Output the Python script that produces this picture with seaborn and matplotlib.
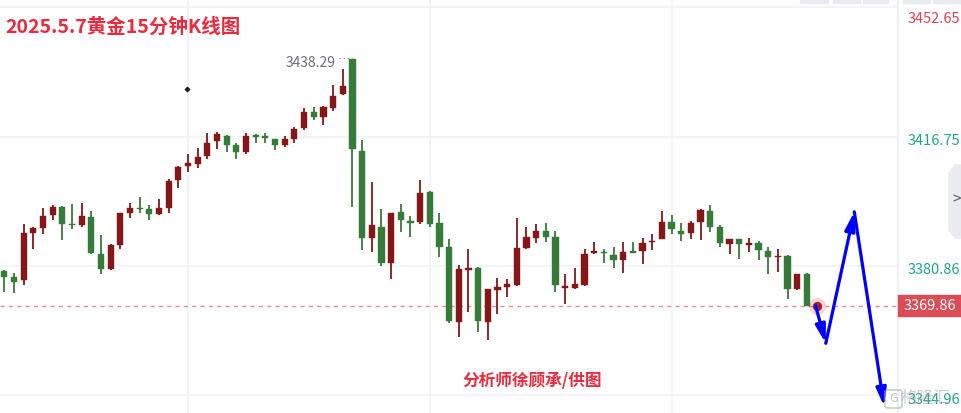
import numpy as np
import pandas as pd
import seaborn as sns
import matplotlib.pyplot as plt
from matplotlib.patches import Rectangle, Polygon, FancyBboxPatch
from matplotlib.transforms import ScaledTranslation

# 15 minute candles
opens = [3379.6, 3377.9, 3377.0, 3390.1, 3391.5, 3395.0, 3397.3, 3392.4, 3392.2, 3394.5,
         3384.2, 3380.0, 3386.6, 3395.7, 3396.9, 3396.6, 3395.4, 3397.0, 3404.7, 3408.5,
         3409.2, 3411.3, 3415.6, 3417.0, 3414.3, 3412.4, 3417.1, 3416.8, 3416.0, 3414.3,
         3416.1, 3419.1, 3423.7, 3422.3, 3424.8, 3428.6, 3438.2, 3412.9, 3388.7, 3391.7,
         3381.8, 3395.9, 3393.4, 3393.2, 3401.5, 3392.8, 3386.2, 3365.4, 3379.8, 3380.3,
         3365.4, 3374.2, 3375.1, 3375.7, 3385.9, 3388.7, 3390.7, 3389.0, 3374.8, 3374.8,
         3375.6, 3384.4, 3384.8, 3384.0, 3382.5, 3384.8, 3384.9, 3387.4, 3388.4, 3393.1,
         3390.7, 3389.9, 3393.0, 3396.2, 3391.8, 3387.0, 3388.3, 3386.7, 3387.3, 3385.1,
         3383.3, 3383.7, 3374.5, 3378.6]
closes = [3377.9, 3376.5, 3389.9, 3391.4, 3394.8, 3397.3, 3392.5, 3392.1, 3394.8, 3384.4,
          3380.1, 3386.6, 3395.6, 3397.0, 3396.6, 3395.3, 3397.0, 3404.5, 3408.4, 3409.5,
          3411.2, 3414.9, 3417.4, 3414.5, 3412.6, 3417.0, 3416.6, 3416.3, 3414.5, 3416.0,
          3418.8, 3423.7, 3422.3, 3425.1, 3428.1, 3430.9, 3413.3, 3388.7, 3392.1, 3381.8,
          3395.5, 3393.6, 3392.9, 3401.0, 3392.5, 3386.2, 3365.7, 3380.0, 3380.3, 3365.7,
          3374.4, 3375.1, 3375.8, 3385.9, 3389.0, 3390.7, 3389.0, 3375.6, 3375.1, 3375.8,
          3384.1, 3384.9, 3384.4, 3382.5, 3384.8, 3384.6, 3387.2, 3387.9, 3393.1, 3391.2,
          3389.8, 3392.7, 3396.4, 3391.6, 3387.2, 3388.3, 3387.0, 3387.1, 3385.3, 3383.3,
          3383.7, 3374.5, 3378.6, 3369.86]
highs = [3379.8, 3378.8, 3392.4, 3391.8, 3396.9, 3397.7, 3397.5, 3398.1, 3398.4, 3396.2,
         3389.4, 3386.9, 3395.6, 3398.4, 3400.1, 3397.7, 3399.5, 3404.9, 3408.6, 3411.9,
         3413.5, 3417.7, 3418.1, 3417.2, 3414.9, 3417.7, 3417.4, 3417.7, 3416.0, 3417.0,
         3419.5, 3424.6, 3425.1, 3425.3, 3431.1, 3435.5, 3438.29, 3415.8, 3404.3, 3396.7,
         3395.5, 3398.1, 3394.8, 3404.7, 3401.8, 3395.7, 3388.3, 3381.1, 3385.6, 3380.7,
         3374.4, 3377.5, 3377.2, 3394.1, 3391.8, 3392.5, 3392.8, 3390.7, 3378.6, 3380.2,
         3385.5, 3387.6, 3385.5, 3386.1, 3387.6, 3387.6, 3388.6, 3389.7, 3396.2, 3394.9,
         3392.7, 3393.4, 3396.7, 3397.7, 3392.1, 3388.3, 3388.3, 3388.6, 3387.8, 3386.2,
         3385.5, 3383.9, 3378.6, 3378.8]
lows = [3373.7, 3373.4, 3375.5, 3385.6, 3389.7, 3393.6, 3388.1, 3391.1, 3391.6, 3384.2,
        3378.6, 3379.8, 3385.6, 3394.3, 3395.7, 3393.6, 3395.1, 3395.7, 3402.6, 3407.0,
        3408.1, 3410.6, 3413.3, 3412.6, 3410.6, 3412.0, 3415.1, 3415.1, 3413.1, 3413.8,
        3415.1, 3418.6, 3421.4, 3420.0, 3424.0, 3428.3, 3397.3, 3385.3, 3384.8, 3380.9,
        3377.3, 3390.4, 3389.0, 3392.5, 3391.8, 3383.3, 3365.1, 3361.2, 3368.2, 3362.6,
        3360.3, 3367.5, 3372.3, 3375.4, 3385.6, 3387.3, 3387.4, 3373.7, 3370.3, 3374.5,
        3375.4, 3384.1, 3381.8, 3380.4, 3379.0, 3384.4, 3381.4, 3385.2, 3388.4, 3389.7,
        3387.7, 3388.4, 3388.1, 3390.2, 3386.2, 3384.2, 3382.8, 3384.7, 3382.5, 3378.6,
        3379.3, 3371.7, 3374.2, 3369.86]

axis_prices = [3452.65, 3416.75, 3380.86, 3344.96]
axis_labels = ["3452.65", "3416.75", "3380.86", "3344.96"]
last_price = 3369.86
peak_label = "3438.29"

# hand drawn forecast path (candle index, price)
path_x = [83.9, 84.95, 87.9, 91.0]
path_y = [3369.8, 3359.4, 3395.9, 3341.8]

title = "2025.5.7黄金15分钟K线图"
credit = "分析师徐顾承/供图"

RED = "#861718"
GREEN = "#367b39"
TITLE_RED = "#ec2a3e"

sns.set_theme(style="white")
plt.rcParams['font.family'] = ['Noto Sans CJK SC', 'DejaVu Sans']

W, H = 961, 413


def fx(px):
    return px / W


def fy(py):
    return 1 - py / H


df = pd.DataFrame({"open": opens, "close": closes, "high": highs, "low": lows})
df["x"] = np.arange(len(df))
df["up"] = df["close"] >= df["open"]
df["color"] = np.where(df["up"], RED, GREEN)
df["bottom"] = df[["open", "close"]].min(axis=1)
df["height"] = (df["close"] - df["open"]).abs().clip(lower=0.45)

fig = plt.figure(figsize=(W / 100, H / 100), dpi=100)
ax = fig.add_axes([0, 0, fx(898), 1])
ax.set_xlim(-0.445, 92.42)
ax.set_ylim(3340.06, 3454.68)

# grid
for p in axis_prices:
    ax.axhline(p, color="#f1f2f6", lw=1.2, zorder=0)
for gx in [19, 44, 69]:
    ax.axvline(gx, color="#f1f2f6", lw=1.2, zorder=0)

# candles
ax.vlines(df["x"], df["low"], df["high"], colors=df["color"], lw=1.3, zorder=2)
ax.bar(df["x"], df["height"], bottom=df["bottom"], width=0.64,
       color=df["color"], edgecolor=df["color"], linewidth=0.3, zorder=3)

# current price line
ax.axhline(last_price, color="#ea8d92", lw=1, ls=(0, (3, 3)), zorder=1)
ax.scatter([84], [last_price], s=150, color="#c0393f", alpha=0.2, lw=0, zorder=4)
ax.scatter([84], [last_price], s=45, color="#a81e24", lw=0, zorder=5)

# peak label
ax.plot([34.6, 36.0], [highs[36] + 0.3, highs[36] + 0.3], color="#8a8d96",
        lw=1, ls=(0, (1, 2)), zorder=2)
ax.text(34.3, highs[36] - 1.2, peak_label, ha="right", va="center",
        fontsize=10, color="#6c6f78", zorder=5)

# small crosshair marker
ax.scatter([18.9], [3430.0], marker="D", s=5, color="#222222", zorder=5)

# forecast arrows
for i in range(len(path_x) - 1):
    ax.annotate("", xy=(path_x[i + 1], path_y[i + 1]), xytext=(path_x[i], path_y[i]),
                arrowprops=dict(arrowstyle="-|>,head_length=0.9,head_width=0.25",
                                color="#0000ff", lw=2.3, shrinkA=0, shrinkB=0),
                zorder=6)

# right price axis
ax.yaxis.tick_right()
ax.set_yticks(axis_prices)
ax.set_yticklabels(axis_labels)
ax.set_xticks([])
ax.tick_params(axis="y", length=0, pad=7, labelsize=10.5)
for lab, p in zip(ax.get_yticklabels(), axis_prices):
    if p == axis_prices[0]:
        lab.set_color("#e0404e")
        lab.set_transform(lab.get_transform() + ScaledTranslation(0, -10 / 100, fig.dpi_scale_trans))
    else:
        lab.set_color("#1ea589")
        lab.set_transform(lab.get_transform() + ScaledTranslation(0, -3 / 100, fig.dpi_scale_trans))

for side in ["top", "left", "bottom"]:
    ax.spines[side].set_visible(False)
ax.spines["right"].set_color("#eceef2")
ax.spines["right"].set_linewidth(1.2)

# current price box
fig.patches.append(Rectangle((fx(898), fy(316)), fx(961) - fx(898), fy(295) - fy(316),
                             transform=fig.transFigure, color="#dc4c57", zorder=5))
fig.text(fx(930), fy(305.5), f"{last_price:.2f}", ha="center", va="center",
         fontsize=10.5, color="white", zorder=6)

# top tabs and side handle
for x0, x1 in [(800, 828), (833, 860), (863, 888), (903, 930), (933, 961)]:
    fig.patches.append(Rectangle((fx(x0), fy(3)), fx(x1) - fx(x0), fy(0) - fy(3),
                                 transform=fig.transFigure, color="#e9ebf0", zorder=1))
fig.patches.append(Polygon([(fx(955), fy(165)), (fx(961), fy(165)), (fx(961), fy(238)),
                            (fx(955), fy(238)), (fx(949), fy(230)), (fx(949), fy(173))],
                           closed=True, transform=fig.transFigure, color="#ebecf0", zorder=1))
fig.text(fx(957), fy(200), ">", ha="center", va="center", fontsize=11,
         color="#555a66", zorder=2)

# watermark (logo box + name), sits over the bottom price label as in the source
fig.patches.append(FancyBboxPatch((fx(885), fy(408)), fx(902) - fx(885), fy(390) - fy(408),
                                  boxstyle="round,pad=0,rounding_size=0.004",
                                  transform=fig.transFigure, fill=False,
                                  edgecolor="#a8aab0", lw=1.2, alpha=0.6, zorder=7))
fig.text(fx(893.5), fy(399), "G", ha="center", va="center", fontsize=9,
         color="#9a9ca3", alpha=0.6, zorder=7)
fig.text(fx(925), fy(398), "格隆汇", ha="center", va="center", fontsize=12,
         color="#9a9ca3", alpha=0.5, zorder=7)

# titles
fig.text(fx(5), fy(27), title, ha="left", va="center", fontsize=14,
         fontweight="bold", color=TITLE_RED)
fig.text(fx(532), fy(381), credit, ha="center", va="center", fontsize=12,
         fontweight="bold", color=TITLE_RED)

fig.savefig("out.png", dpi=100, facecolor="white")
